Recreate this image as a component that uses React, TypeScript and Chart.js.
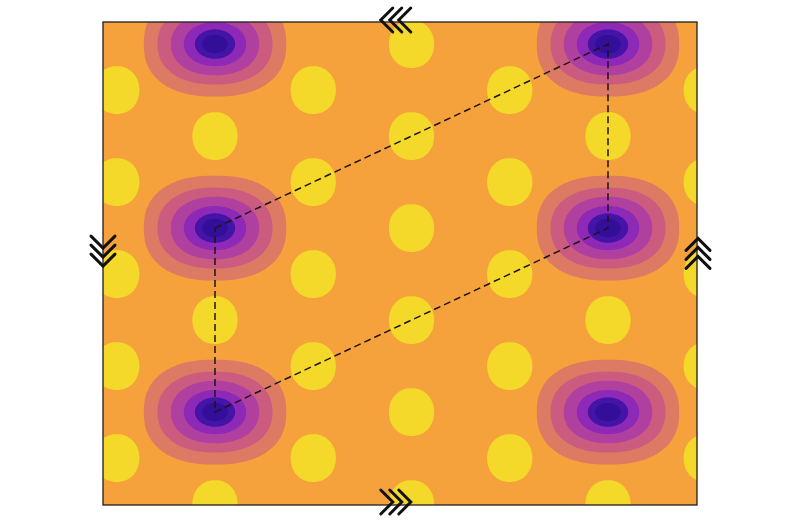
import React, { useEffect, useRef } from "react";
import { Chart, registerables } from "chart.js";

Chart.register(...registerables);

// Lattice wells (minima) — centres in lattice units
const wellX = [0, 4, 0, 4, 0, 4];
const wellY = [8, 8, 4, 4, 0, 0];

// Bright maxima (yellow islands)
const blobX = [
  -1, -1, -1, -1, -1,
  1, 1, 1, 1, 1,
  3, 3, 3, 3, 3,
  5, 5, 5, 5, 5,
  0, 0, 0,
  4, 4, 4,
  2, 2, 2, 2, 2, 2,
];
const blobY = [
  7, 5, 3, 1, -1,
  7, 5, 3, 1, -1,
  7, 5, 3, 1, -1,
  7, 5, 3, 1, -1,
  6, 2, -2,
  6, 2, -2,
  8, 6, 4, 2, 0, -2,
];

// Unit cell (dashed parallelogram)
const cellX = [0, 4, 4, 0, 0];
const cellY = [4, 8, 4, 0, 4];

// Periodic-boundary arrows: position along the edge and direction
const arrowEdge = ["top", "bottom", "left", "right"];
const arrowPos = [1.84, 1.84, 3.5, 3.45];
const arrowDir = ["left", "right", "down", "up"];

// Axis extents (lattice units)
const xRange = [-1.14, 4.906];
const yRange = [-2.02, 8.48];

// Contour levels for the wells (half sizes in lattice units), outer to inner
const wellRx = [0.725, 0.585, 0.45, 0.318, 0.205, 0.13];
const wellRy = [1.14, 0.88, 0.68, 0.48, 0.32, 0.2];
const wellExp = [2.35, 2.25, 2.15, 2.05, 2.0, 2.0];
const wellColors = ["#dc7a63", "#cb5c7f", "#b0409f", "#8e28b6", "#4414a6", "#330e98"];
const blobRx = 0.23;
const blobRy = 0.52;
const bgColor = "#f5a23c";
const blobColor = "#f4d82a";

function superEllipse(ctx: CanvasRenderingContext2D, cx: number, cy: number, rx: number, ry: number, n: number) {
  ctx.beginPath();
  const N = 96;
  for (let i = 0; i <= N; i++) {
    const t = (i / N) * Math.PI * 2;
    const c = Math.cos(t);
    const s = Math.sin(t);
    const x = cx + rx * Math.sign(c) * Math.pow(Math.abs(c), 2 / n);
    const y = cy + ry * Math.sign(s) * Math.pow(Math.abs(s), 2 / n);
    if (i === 0) ctx.moveTo(x, y);
    else ctx.lineTo(x, y);
  }
  ctx.closePath();
}

const fieldPlugin = {
  id: "field",
  beforeDatasetsDraw(chart: any) {
    const { ctx, chartArea: a, scales } = chart;
    const xs = scales.x;
    const ys = scales.y;
    const pxX = Math.abs(xs.getPixelForValue(1) - xs.getPixelForValue(0));
    const pxY = Math.abs(ys.getPixelForValue(1) - ys.getPixelForValue(0));
    ctx.save();
    ctx.beginPath();
    ctx.rect(a.left, a.top, a.right - a.left, a.bottom - a.top);
    ctx.clip();
    ctx.fillStyle = bgColor;
    ctx.fillRect(a.left, a.top, a.right - a.left, a.bottom - a.top);
    const blobs = chart.getDatasetMeta(1).data;
    ctx.fillStyle = blobColor;
    blobs.forEach((p: any) => {
      superEllipse(ctx, p.x, p.y, blobRx * pxX, blobRy * pxY, 2.1);
      ctx.fill();
    });
    const wells = chart.getDatasetMeta(0).data;
    wells.forEach((p: any) => {
      wellRx.forEach((rx, i) => {
        ctx.fillStyle = wellColors[i];
        superEllipse(ctx, p.x, p.y, rx * pxX, wellRy[i] * pxY, wellExp[i]);
        ctx.fill();
      });
    });
    ctx.restore();
  },
  afterDraw(chart: any) {
    const { ctx, chartArea: a, scales } = chart;
    ctx.save();
    ctx.strokeStyle = "#1e1e1e";
    ctx.lineWidth = 1.3;
    ctx.strokeRect(a.left, a.top, a.right - a.left, a.bottom - a.top);
    ctx.strokeStyle = "#111";
    ctx.lineWidth = 3;
    ctx.lineCap = "round";
    ctx.lineJoin = "miter";
    const len = 12;
    const half = 12;
    const spacing = 9;
    arrowEdge.forEach((edge, i) => {
      let cx = 0;
      let cy = 0;
      if (edge === "top" || edge === "bottom") {
        cx = scales.x.getPixelForValue(arrowPos[i]);
        cy = edge === "top" ? a.top - 2 : a.bottom - 3;
      } else {
        cy = scales.y.getPixelForValue(arrowPos[i]);
        cx = edge === "left" ? a.left : a.right + 1;
      }
      const dir = arrowDir[i];
      const dx = dir === "left" ? -1 : dir === "right" ? 1 : 0;
      const dy = dir === "up" ? -1 : dir === "down" ? 1 : 0;
      const px = -dy;
      const py = dx;
      for (let k = -1; k <= 1; k++) {
        const tx = cx + dx * (len / 2 + k * spacing);
        const ty = cy + dy * (len / 2 + k * spacing);
        ctx.beginPath();
        ctx.moveTo(tx - dx * len + px * half, ty - dy * len + py * half);
        ctx.lineTo(tx, ty);
        ctx.lineTo(tx - dx * len - px * half, ty - dy * len - py * half);
        ctx.stroke();
      }
    });
    ctx.restore();
  },
};

export default function App() {
  const ref = useRef<HTMLCanvasElement | null>(null);
  useEffect(() => {
    document.body.style.margin = "0";
    document.body.style.background = "#ffffff";
    if (!ref.current) return;
    const chart = new Chart(ref.current, {
      type: "scatter",
      data: {
        datasets: [
          {
            label: "wells",
            data: wellX.map((x, i) => ({ x, y: wellY[i] })),
            pointRadius: 0,
            pointHoverRadius: 0,
          },
          {
            label: "maxima",
            data: blobX.map((x, i) => ({ x, y: blobY[i] })),
            pointRadius: 0,
            pointHoverRadius: 0,
          },
          {
            label: "cell",
            data: cellX.map((x, i) => ({ x, y: cellY[i] })),
            showLine: true,
            borderColor: "#1e1414",
            borderWidth: 1.5,
            borderDash: [7, 4],
            pointRadius: 0,
            fill: false,
            tension: 0,
          },
        ],
      },
      options: {
        responsive: false,
        animation: false,
        layout: { padding: { left: 103, right: 103, top: 22, bottom: 19 } },
        plugins: { legend: { display: false }, tooltip: { enabled: false } },
        scales: {
          x: { type: "linear", min: xRange[0], max: xRange[1], display: false },
          y: { type: "linear", min: yRange[0], max: yRange[1], display: false },
        },
      },
      plugins: [fieldPlugin],
    });
    return () => chart.destroy();
  }, []);
  return (
    <div style={{ width: 800, height: 524 }}>
      <canvas ref={ref} width={800} height={524} style={{ display: "block" }} />
    </div>
  );
}
